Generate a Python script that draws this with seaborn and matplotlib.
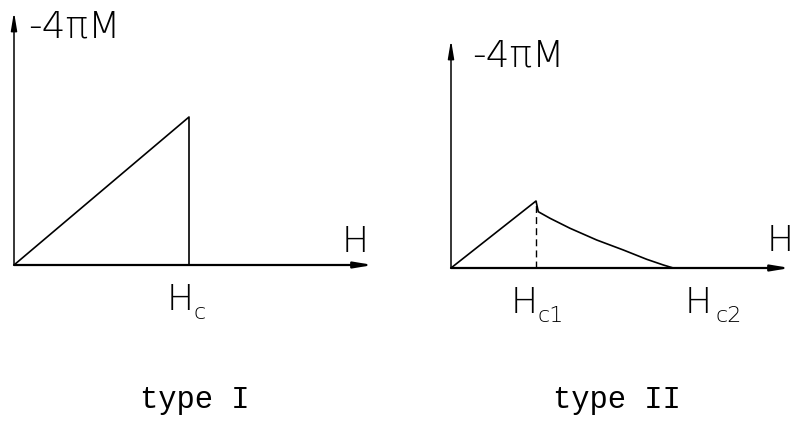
import matplotlib
matplotlib.use("Agg")
import matplotlib.pyplot as plt
import seaborn as sns
import pandas as pd

# Magnetisation curves (-4πM versus applied field H) for the two kinds of superconductor
# type I: linear Meissner response up to Hc, then an abrupt drop to zero
type1_H = [0.0, 1.0, 1.0]
type1_M = [0.0, 1.0, 0.0]
# type II: linear up to Hc1, then a gradual decay to zero at Hc2
type2_H = [0.0, 1.0, 1.027, 1.165, 1.40, 1.714, 2.027, 2.302, 2.498, 2.615]
type2_M = [0.0, 1.0, 0.84, 0.742, 0.593, 0.418, 0.269, 0.130, 0.045, 0.0]
Hc = 1.0
Hc1 = 1.0
Hc2 = 2.615

panel_titles = ["type I", "type II"]
y_label = "-4πM"
x_label = "H"

sns.set_theme(style="white")
LETTER = ["Liberation Sans Narrow", "DejaVu Sans"]
MONO = ["Liberation Mono", "DejaVu Sans Mono"]
plt.rcParams["font.family"] = LETTER

W, H = 793, 423
fig = plt.figure(figsize=(W / 100, H / 100), dpi=100)
fig.patch.set_facecolor("white")


def frame(left, right, bottom, top):
    return fig.add_axes([left / W, (H - bottom) / H, (right - left) / W, (bottom - top) / H])


def draw_axes(ax):
    ax.set_axis_off()
    ax.annotate("", xy=(1, 0), xytext=(0, 0), xycoords="axes fraction",
                arrowprops=dict(arrowstyle="-|>,head_length=0.9,head_width=0.15",
                                lw=1.6, color="black", shrinkA=0, shrinkB=0))
    ax.annotate("", xy=(0, 1), xytext=(0, 0), xycoords="axes fraction",
                arrowprops=dict(arrowstyle="-|>,head_length=0.9,head_width=0.15",
                                lw=1.1, color="black", shrinkA=0, shrinkB=0))


def field_label(ax, x, main, sub, dx_main, dx_sub):
    ax.annotate(main, xy=(x, 0), xytext=(dx_main * 0.72, -35 * 0.72), textcoords="offset points",
                ha="center", va="center", fontsize=26, color="black", fontweight="light")
    ax.annotate(sub, xy=(x, 0), xytext=(dx_sub * 0.72, -48 * 0.72), textcoords="offset points",
                ha="center", va="center", fontsize=16, color="black", fontweight="light")


# ---- type I ----
ax1 = frame(14, 373, 265, 12)
ax1.set_xlim(0, (373 - 14) / 175)
ax1.set_ylim(0, (265 - 12) / 148)
draw_axes(ax1)
df1 = pd.DataFrame({"H": type1_H, "M": type1_M})
sns.lineplot(data=df1, x="H", y="M", sort=False, estimator=None, ax=ax1,
             color="black", lw=1.2)
ax1.set_axis_off()
ax1.text(0.039, 0.94, y_label, transform=ax1.transAxes, ha="left", va="center",
         fontsize=27, color="black", fontweight="light")
ax1.text(1.95, 0.155, x_label, ha="center", va="center", fontsize=26, color="black",
         fontweight="light")
field_label(ax1, Hc, "H", "c", -9, 11)

# ---- type II ----
ax2 = frame(451, 790, 268, 40)
ax2.set_xlim(0, (790 - 451) / 85)
ax2.set_ylim(0, (268 - 40) / 67)
draw_axes(ax2)
df2 = pd.DataFrame({"H": type2_H, "M": type2_M})
sns.lineplot(data=df2, x="H", y="M", sort=False, estimator=None, ax=ax2,
             color="black", lw=1.2)
peak = type2_M[type2_H.index(Hc1)]
ax2.plot([Hc1, Hc1], [0.0, peak], color="black", lw=1.0, linestyle=(0, (5, 3)))
ax2.set_axis_off()
ax2.text(0.062, 0.93, y_label, transform=ax2.transAxes, ha="left", va="center",
         fontsize=27, color="black", fontweight="light")
ax2.text(3.87, 0.40, x_label, ha="center", va="center", fontsize=26, color="black",
         fontweight="light")
field_label(ax2, Hc1, "H", "c1", -12, 15)
field_label(ax2, Hc2, "H", "c2", 25, 55)

fig.text(195 / W, 1 - 400 / H, panel_titles[0], ha="center", va="center",
         fontsize=22, family=MONO, color="black")
fig.text(617 / W, 1 - 400 / H, panel_titles[1], ha="center", va="center",
         fontsize=22, family=MONO, color="black")

fig.savefig("out.png", dpi=100, facecolor="white")
